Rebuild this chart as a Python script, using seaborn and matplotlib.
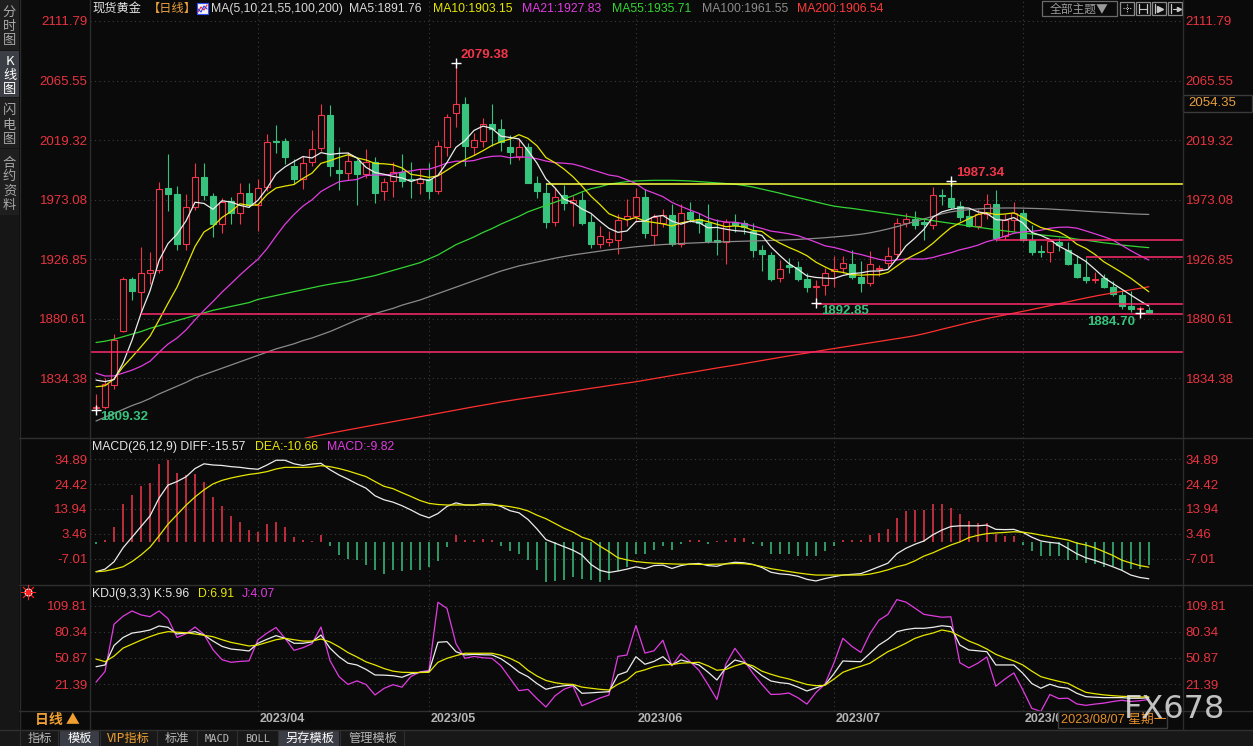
"""Spot gold daily K-line with MA, MACD and KDJ panels (dark trading-terminal look)."""

import matplotlib
matplotlib.use("Agg")
import matplotlib.pyplot as plt
import matplotlib.transforms as mtransforms
from matplotlib.patches import Rectangle
import numpy as np
import pandas as pd
import seaborn as sns

# ---------------------------------------------------------------- data
opens = [
    1810.8, 1812.0, 1829.0, 1871.0, 1911.0, 1901.6, 1916.0, 1918.0, 1982.0, 1977.0,
    1938.5, 1967.0, 1990.7, 1976.0, 1954.3, 1972.0, 1962.4, 1978.0, 1968.6, 1982.8,
    2018.8, 2018.8, 1999.3, 1989.4, 2001.9, 2013.2, 2038.4, 1996.0, 1993.6, 2003.4,
    1993.0, 2002.3, 1979.6, 1987.3, 1994.6, 1989.0, 1986.3, 1988.9, 1979.8, 2013.7,
    2040.2, 2047.5, 2013.7, 2018.3, 2031.9, 2028.0, 2013.7, 2005.9, 2013.7, 1986.3,
    1978.5, 1956.0, 1976.7, 1970.0, 1972.8, 1955.7, 1938.9, 1939.7, 1941.5, 1957.8,
    1960.4, 1975.2, 1945.3, 1954.5, 1961.3, 1938.4, 1963.5, 1957.9, 1955.2, 1941.5,
    1940.2, 1956.0, 1955.2, 1948.8, 1934.0, 1930.1, 1912.0, 1922.3, 1920.8, 1911.7,
    1905.3, 1906.6, 1917.7, 1919.5, 1922.9, 1913.0, 1908.6, 1918.8, 1923.4, 1930.6,
    1955.2, 1958.3, 1955.5, 1953.2, 1976.2, 1974.2, 1968.2, 1960.4, 1952.6, 1961.7,
    1969.5, 1944.9, 1957.0, 1963.0, 1941.5, 1932.6, 1932.4, 1940.2, 1934.0, 1923.3,
    1912.5, 1910.5, 1912.0, 1905.5, 1899.0, 1890.0, 1888.0, 1887.1,
]
highs = [
    1822.0, 1834.3, 1868.5, 1913.0, 1913.0, 1936.3, 1932.4, 1986.8, 2008.5, 1983.7,
    1977.5, 2001.7, 2001.7, 1978.0, 1974.6, 1975.0, 1985.7, 1986.0, 1988.9, 2024.0,
    2031.3, 2020.5, 2004.5, 2007.1, 2027.2, 2047.5, 2046.2, 2014.2, 2010.0, 2004.5,
    2012.0, 2006.0, 1990.0, 2002.0, 2008.5, 2002.0, 1996.7, 2001.4, 2018.8, 2039.8,
    2079.38, 2052.7, 2025.0, 2036.6, 2047.0, 2036.0, 2023.0, 2020.2, 2017.0, 1991.0,
    1986.0, 1982.4, 1984.0, 1975.9, 1979.0, 1961.7, 1952.6, 1948.8, 1961.7, 1973.4,
    1982.4, 1981.0, 1962.0, 1966.0, 1969.5, 1969.5, 1971.5, 1963.0, 1969.5, 1957.9,
    1958.0, 1962.0, 1957.0, 1955.2, 1937.6, 1932.0, 1926.0, 1928.0, 1925.5, 1915.9,
    1910.8, 1920.0, 1929.0, 1929.0, 1933.7, 1925.7, 1933.2, 1922.0, 1936.0, 1959.0,
    1963.0, 1964.0, 1958.5, 1982.9, 1981.2, 1987.34, 1972.0, 1966.0, 1966.0, 1977.2,
    1980.6, 1962.0, 1971.2, 1966.0, 1953.4, 1937.9, 1942.3, 1943.5, 1940.0, 1930.0,
    1928.0, 1917.0, 1915.0, 1910.0, 1903.0, 1902.1, 1890.5, 1889.7,
]
lows = [
    1809.32, 1810.0, 1826.0, 1870.0, 1894.9, 1884.0, 1907.3, 1916.0, 1964.2, 1934.0,
    1933.8, 1965.0, 1972.8, 1944.0, 1947.4, 1954.0, 1954.3, 1966.9, 1948.7, 1980.0,
    2008.9, 2000.6, 1985.0, 1981.1, 1999.3, 2011.0, 1991.5, 1980.3, 1988.0, 1968.6,
    1990.0, 1970.7, 1973.0, 1975.0, 1983.0, 1974.6, 1977.2, 1973.3, 1977.0, 2007.1,
    2029.2, 1999.3, 2008.0, 2014.0, 2015.0, 2010.5, 2000.6, 2004.0, 1986.0, 1974.0,
    1950.8, 1952.6, 1965.0, 1952.6, 1953.0, 1935.5, 1935.8, 1937.0, 1931.1, 1952.6,
    1956.0, 1943.0, 1937.8, 1952.0, 1937.0, 1936.0, 1956.0, 1947.0, 1939.0, 1930.0,
    1923.3, 1948.0, 1946.0, 1928.6, 1917.7, 1910.0, 1909.0, 1916.0, 1909.5, 1901.6,
    1892.85, 1899.0, 1905.0, 1916.0, 1911.0, 1901.2, 1906.0, 1914.0, 1920.0, 1927.0,
    1952.0, 1950.0, 1942.0, 1950.0, 1969.0, 1966.0, 1956.5, 1952.0, 1950.5, 1958.0,
    1941.0, 1942.0, 1949.0, 1940.5, 1930.0, 1928.6, 1924.9, 1933.0, 1922.0, 1912.0,
    1908.0, 1908.0, 1904.0, 1898.0, 1888.0, 1885.5, 1884.7, 1884.85,
]
closes = [
    1812.0, 1830.0, 1864.0, 1911.0, 1902.0, 1916.0, 1918.0, 1981.4, 1977.0, 1938.5,
    1967.3, 1990.7, 1976.7, 1954.3, 1971.5, 1962.4, 1978.0, 1968.6, 1982.2, 2017.8,
    2017.8, 2005.8, 1989.4, 2001.6, 2012.3, 2038.4, 1998.8, 1993.6, 2003.0, 1993.3,
    2002.0, 1978.5, 1986.8, 1994.6, 1987.3, 1988.5, 1988.9, 1979.8, 2014.9, 2037.1,
    2047.5, 2014.9, 2019.3, 2031.9, 2028.0, 2017.5, 2009.7, 2013.7, 1986.3, 1979.8,
    1955.8, 1975.2, 1970.0, 1972.5, 1955.2, 1938.9, 1944.6, 1942.3, 1957.0, 1960.4,
    1975.2, 1946.7, 1959.6, 1961.3, 1938.9, 1963.0, 1958.3, 1954.5, 1941.0, 1940.2,
    1956.0, 1953.0, 1951.9, 1934.0, 1931.1, 1911.7, 1919.0, 1920.8, 1911.7, 1905.5,
    1905.8, 1916.3, 1919.0, 1923.6, 1913.0, 1908.6, 1922.9, 1919.8, 1929.3, 1955.2,
    1957.8, 1953.2, 1953.8, 1976.7, 1975.8, 1967.4, 1959.6, 1952.6, 1962.2, 1969.5,
    1943.5, 1957.0, 1963.0, 1941.5, 1932.4, 1932.2, 1941.0, 1937.6, 1923.3, 1912.5,
    1910.5, 1910.9, 1905.5, 1900.0, 1890.0, 1888.0, 1888.7, 1885.0,
]
# closes of the 20 sessions before the window (feed the short moving averages)
prior_closes = [
    1876, 1862, 1865, 1854, 1853, 1836, 1836, 1842, 1841, 1835,
    1825, 1822, 1811, 1817, 1826, 1836, 1836, 1856, 1847, 1813,
]
ma55 = [
    1862.0, 1863.0, 1864.5, 1866.5, 1868.5, 1870.5, 1873.0, 1875.0, 1877.0, 1879.0,
    1881.0, 1883.0, 1885.0, 1887.0, 1888.5, 1890.0, 1891.5, 1893.0, 1895.5, 1897.0,
    1898.5, 1900.0, 1901.5, 1903.0, 1904.5, 1906.0, 1907.3, 1908.5, 1909.5, 1911.0,
    1912.5, 1914.0, 1916.0, 1918.0, 1920.0, 1922.0, 1924.0, 1927.0, 1930.0, 1934.0,
    1938.0, 1941.0, 1944.0, 1947.5, 1950.5, 1954.0, 1957.0, 1960.0, 1963.5, 1966.0,
    1968.5, 1971.0, 1973.5, 1976.0, 1979.0, 1981.5, 1983.0, 1985.0, 1986.0, 1987.0,
    1987.5, 1987.8, 1988.0, 1988.0, 1988.0, 1987.8, 1987.5, 1987.0, 1986.5, 1986.0,
    1985.5, 1985.0, 1984.0, 1982.8, 1981.2, 1979.6, 1978.0, 1976.2, 1974.6, 1973.0,
    1971.2, 1969.5, 1968.0, 1967.0, 1966.2, 1965.2, 1964.2, 1963.2, 1962.2, 1961.2,
    1960.2, 1959.0, 1957.8, 1956.7, 1955.6, 1954.6, 1953.6, 1952.6, 1951.6, 1950.6,
    1949.6, 1948.7, 1947.9, 1947.1, 1946.3, 1945.6, 1944.9, 1944.2, 1943.5, 1942.3,
    1941.5, 1940.5, 1939.5, 1938.7, 1937.7, 1937.0, 1936.3, 1935.7,
]
ma100 = [
    1801.0, 1804.0, 1807.0, 1810.0, 1813.0, 1815.5, 1818.5, 1822.0, 1825.0, 1828.0,
    1831.0, 1834.5, 1837.0, 1839.5, 1842.0, 1844.5, 1847.0, 1849.5, 1852.0, 1854.5,
    1857.0, 1859.0, 1861.0, 1863.5, 1865.5, 1868.0, 1870.5, 1873.5, 1876.5, 1879.5,
    1882.0, 1884.5, 1886.5, 1888.5, 1891.0, 1893.0, 1895.0, 1897.5, 1900.0, 1902.5,
    1905.0, 1907.5, 1910.0, 1912.5, 1915.0, 1917.5, 1919.5, 1921.5, 1923.0, 1924.5,
    1926.0, 1927.5, 1928.8, 1930.0, 1931.0, 1932.0, 1933.0, 1934.0, 1934.8, 1935.6,
    1936.4, 1937.0, 1937.6, 1938.1, 1938.5, 1938.9, 1939.2, 1939.5, 1939.8, 1940.1,
    1940.3, 1940.5, 1940.7, 1940.9, 1941.1, 1941.3, 1941.5, 1941.8, 1942.1, 1942.5,
    1942.9, 1943.4, 1944.0, 1944.6, 1945.3, 1946.1, 1947.2, 1948.6, 1950.2, 1952.0,
    1954.0, 1956.0, 1958.0, 1960.0, 1962.0, 1963.5, 1964.5, 1965.2, 1965.8, 1966.2,
    1966.4, 1966.5, 1966.5, 1966.4, 1966.2, 1966.0, 1965.7, 1965.3, 1964.9, 1964.5,
    1964.0, 1963.6, 1963.2, 1962.8, 1962.4, 1962.0, 1961.7, 1961.5,
]
ma200 = [
    1757.4, 1758.7, 1760.0, 1761.3, 1762.6, 1763.9, 1765.2, 1766.5, 1767.8, 1769.1,
    1770.4, 1771.7, 1773.0, 1774.3, 1775.6, 1776.9, 1778.2, 1779.5, 1780.8, 1782.1,
    1783.4, 1784.7, 1786.0, 1787.3, 1788.7, 1790.1, 1791.5, 1792.8, 1794.1, 1795.4,
    1796.7, 1798.0, 1799.2, 1800.5, 1801.8, 1803.0, 1804.3, 1805.6, 1806.9, 1808.2,
    1809.5, 1810.8, 1812.1, 1813.3, 1814.5, 1815.8, 1816.9, 1818.0, 1819.0, 1820.1,
    1821.1, 1822.2, 1823.2, 1824.3, 1825.3, 1826.4, 1827.4, 1828.5, 1829.5, 1830.5,
    1831.5, 1832.7, 1833.9, 1835.1, 1836.3, 1837.5, 1838.6, 1839.8, 1841.0, 1842.2,
    1843.3, 1844.4, 1845.6, 1846.8, 1848.0, 1849.2, 1850.4, 1851.6, 1852.7, 1853.8,
    1855.0, 1856.2, 1857.3, 1858.4, 1859.5, 1860.6, 1861.7, 1862.8, 1863.9, 1865.0,
    1866.1, 1867.3, 1868.8, 1870.5, 1872.3, 1874.0, 1875.7, 1877.4, 1879.0, 1880.6,
    1882.0, 1883.4, 1884.8, 1886.2, 1887.6, 1889.1, 1890.6, 1892.1, 1893.6, 1895.1,
    1896.6, 1898.0, 1899.3, 1900.5, 1901.7, 1902.9, 1904.1, 1905.3,
]
diff = [
    -12.6, -11.5, -8.4, -2.5, 2.0, 6.5, 11.0, 18.5, 24.0, 25.5,
    27.5, 31.0, 33.0, 32.5, 32.3, 31.8, 31.5, 31.0, 30.7, 32.5,
    34.5, 34.5, 33.0, 32.3, 32.9, 33.2, 30.5, 28.3, 26.5, 24.5,
    22.7, 19.5, 17.8, 16.8, 15.3, 13.5, 11.5, 10.2, 12.0, 15.0,
    16.5, 15.6, 15.5, 16.2, 16.0, 15.0, 13.2, 12.3, 9.5, 5.5,
    1.0, -0.5, -2.0, -3.5, -5.5, -9.5, -12.0, -12.9, -12.3, -11.5,
    -10.5, -11.3, -10.0, -9.8, -11.2, -10.0, -9.3, -9.1, -10.0, -10.3,
    -9.2, -8.6, -8.8, -9.5, -10.8, -12.8, -13.5, -13.8, -14.5, -15.8,
    -16.5, -15.5, -14.7, -14.0, -13.7, -13.4, -12.0, -10.5, -9.0, -5.0,
    -2.7, -1.0, 0.4, 3.0, 5.0, 6.5, 6.8, 6.8, 6.8, 7.1,
    5.3, 5.2, 5.3, 4.0, 2.0, 0.4, -0.2, -0.6, -2.7, -5.0,
    -6.7, -7.8, -9.1, -10.5, -12.0, -14.0, -15.0, -15.57,
]
dea = [
    -12.6, -12.3, -11.5, -10.5, -8.3, -5.5, -2.2, 2.5, 7.5, 11.5,
    15.5, 19.0, 22.0, 24.5, 26.0, 27.0, 27.8, 28.5, 29.0, 29.7,
    30.8, 31.5, 31.5, 31.5, 31.6, 32.2, 31.8, 31.0, 30.0, 28.8,
    27.6, 25.5, 23.5, 22.5, 20.8, 19.2, 17.5, 16.3, 15.8, 15.6,
    15.6, 15.6, 15.6, 15.6, 15.6, 15.4, 14.9, 14.2, 13.1, 11.3,
    9.8, 7.8, 5.8, 4.2, 2.0, 0.8, -1.8, -4.1, -6.7, -7.6,
    -8.3, -8.7, -9.0, -9.1, -9.3, -9.4, -9.4, -9.5, -9.5, -9.4,
    -9.3, -9.1, -9.2, -9.6, -10.4, -11.3, -11.9, -12.5, -13.1, -13.6,
    -14.0, -14.0, -14.0, -14.0, -14.0, -14.0, -13.6, -12.8, -11.8, -10.5,
    -9.6, -8.0, -6.0, -4.6, -2.9, -1.3, 0.0, 1.8, 2.8, 3.5,
    3.8, 4.0, 4.3, 4.1, 3.6, 2.9, 2.2, 1.5, 0.8, -0.5,
    -1.3, -2.5, -4.1, -5.7, -7.7, -8.9, -10.0, -10.66,
]
macd_bar = [
    -0.7, 1.0, 6.3, 16.2, 20.0, 23.7, 24.7, 32.9, 34.8, 29.3,
    28.2, 28.6, 25.4, 18.8, 15.2, 10.9, 8.5, 5.2, 4.2, 7.5,
    8.5, 6.3, 2.1, 0.7, 0.3, 2.8, -1.8, -5.6, -7.1, -7.8,
    -9.9, -12.0, -13.7, -12.0, -12.3, -11.7, -12.0, -10.6, -8.0, -2.1,
    2.8, 1.0, 0.7, 1.4, 1.0, -1.7, -3.8, -4.9, -7.5, -12.0,
    -16.9, -16.5, -16.2, -14.8, -15.5, -16.2, -16.9, -16.2, -12.3, -10.5,
    -4.9, -4.9, -3.5, -1.8, -3.5, -1.0, 0.7, 1.0, -0.7, 0.4,
    0.7, 1.8, 1.8, -0.7, -1.8, -4.9, -5.2, -4.9, -6.1, -6.1,
    -6.1, -3.8, -1.8, 1.0, 1.0, 1.0, 2.8, 3.8, 5.6, 10.3,
    13.0, 13.4, 13.4, 15.9, 16.2, 14.5, 12.0, 8.9, 8.0, 7.8,
    3.5, 2.4, 2.4, -1.1, -3.8, -6.1, -6.1, -6.1, -7.8, -7.8,
    -8.9, -9.2, -10.6, -10.3, -12.0, -11.3, -11.3, -9.82,
]
k_line = [
    41.0, 43.0, 65.0, 74.0, 79.0, 80.5, 82.5, 87.0, 85.5, 78.0,
    79.0, 80.6, 76.8, 70.0, 64.0, 61.0, 60.0, 58.8, 67.5, 72.0,
    76.1, 73.1, 67.5, 67.5, 69.0, 76.8, 62.0, 52.3, 45.0, 43.0,
    38.0, 31.7, 31.5, 30.9, 29.1, 33.0, 34.7, 35.4, 68.6, 69.3,
    58.0, 54.3, 55.0, 54.5, 54.3, 50.0, 43.0, 35.0, 29.8, 22.0,
    15.5, 18.0, 19.5, 20.4, 11.0, 11.5, 12.2, 12.8, 31.7, 35.4,
    52.3, 43.8, 47.0, 52.3, 43.0, 48.6, 46.0, 43.0, 35.0, 26.0,
    40.0, 48.6, 46.0, 39.2, 31.0, 24.9, 23.0, 21.9, 18.0, 13.6,
    17.0, 20.4, 33.0, 47.5, 47.0, 46.7, 56.0, 65.5, 72.0, 80.6,
    83.0, 84.4, 84.4, 85.5, 87.3, 86.2, 65.5, 59.9, 59.0, 58.0,
    43.0, 43.0, 43.0, 33.6, 22.0, 16.7, 21.2, 18.0, 16.7, 11.0,
    7.2, 6.6, 6.1, 6.1, 6.1, 5.4, 5.4, 5.96,
]
d_line = [
    49.7, 46.7, 53.0, 62.0, 66.5, 71.0, 75.0, 78.5, 80.6, 80.0,
    79.4, 78.0, 76.5, 74.9, 71.5, 68.5, 66.5, 64.4, 65.5, 68.5,
    71.5, 73.1, 71.5, 70.0, 70.0, 72.3, 69.0, 63.5, 57.0, 52.0,
    46.5, 43.0, 39.0, 36.0, 34.7, 34.5, 34.5, 34.7, 46.0, 50.5,
    53.5, 56.2, 56.2, 56.2, 56.2, 54.0, 50.5, 45.5, 37.0, 30.5,
    25.5, 23.0, 21.5, 21.0, 18.0, 16.7, 15.5, 14.7, 21.2, 26.0,
    34.7, 37.5, 41.0, 43.0, 43.5, 45.0, 45.5, 46.0, 42.0, 37.0,
    38.0, 42.0, 44.9, 42.0, 36.0, 32.5, 29.5, 27.2, 24.0, 21.0,
    19.6, 20.0, 27.0, 34.7, 38.5, 41.5, 44.9, 51.5, 58.0, 62.5,
    67.5, 73.0, 76.5, 79.0, 82.5, 80.6, 75.5, 70.0, 66.0, 61.0,
    55.0, 51.0, 47.5, 43.0, 36.0, 29.8, 27.0, 24.5, 22.3, 17.0,
    12.1, 10.5, 9.2, 8.3, 7.6, 7.2, 6.8, 6.91,
]
# user-drawn horizontal guide lines: price level and the session they start from
guide_levels = [1985.5, 1941.3, 1928.3, 1892.0, 1884.0, 1854.8]
guide_from = [50, 100, 110, 80, 5, 0]

price_ticks = [2111.79, 2065.55, 2019.32, 1973.08, 1926.85, 1880.61, 1834.38]
macd_ticks = [34.89, 24.42, 13.94, 3.46, -7.01]
kdj_ticks = [109.81, 80.34, 50.87, 21.39]

dates = pd.bdate_range("2023-03-08", "2023-08-21")
dates = dates[dates != pd.Timestamp("2023-04-07")]
n = len(closes)
assert len(dates) == n == len(opens) == len(highs) == len(lows)
idx = np.arange(n)
month_pos = [i for i in range(1, n) if dates[i].month != dates[i - 1].month]
month_labels = [dates[i].strftime("%Y/%m") for i in month_pos]

full_close = pd.Series(prior_closes + closes, dtype=float)
ma5 = full_close.rolling(5).mean().iloc[len(prior_closes):].to_numpy()
ma10 = full_close.rolling(10).mean().iloc[len(prior_closes):].to_numpy()
ma21 = full_close.rolling(21).mean().iloc[len(prior_closes):].to_numpy()
j_line = 3 * np.array(k_line) - 2 * np.array(d_line)

# ---------------------------------------------------------------- style
W, H = 1253, 746
BG = "#0a0a0a"
RED = "#f2364a"
GREEN = "#37c37d"
AXIS_RED = "#e8343f"
GRID = "#3c3c3c"
WHITE = "#ececec"
YELLOW = "#e6e600"
MAGENTA = "#e03ce0"
PINK = "#ff2a6d"

sns.set_theme(style="dark", rc={"axes.facecolor": BG, "figure.facecolor": BG})
plt.rcParams["font.family"] = ["Liberation Sans", "Noto Sans CJK SC", "DejaVu Sans"]
plt.rcParams["axes.unicode_minus"] = False
CJK = ["Noto Sans CJK SC", "DejaVu Sans"]

fig = plt.figure(figsize=(W / 100, H / 100), dpi=100)
fig.patch.set_facecolor(BG)

X0, X1 = 90, 1183


def panel(top, bottom):
    return fig.add_axes([X0 / W, 1 - bottom / H, (X1 - X0) / W, (bottom - top) / H])


def style(ax, ylim, ticks):
    ax.set_facecolor(BG)
    ax.set_xlim(-0.67, 120.8)
    ax.set_ylim(*ylim)
    ax.set_yticks(ticks)
    ax.set_yticklabels([f"{t:.2f}" for t in ticks])
    ax.tick_params(axis="y", length=0, labelleft=True, labelright=True,
                   labelcolor=AXIS_RED, labelsize=9.5, pad=1.8)
    ax.set_xticks(month_pos)
    ax.tick_params(axis="x", length=0, labelbottom=False)
    ax.grid(True, color=GRID, linestyle=(0, (1, 3)), linewidth=0.8)
    for s in ax.spines.values():
        s.set_visible(False)


ax_p = panel(0, 438)
ax_m = panel(438, 585)
ax_k = panel(585, 711)
style(ax_p, (1787.8, 2128.1), price_ticks)
style(ax_m, (-18.2, 43.9), macd_ticks)
style(ax_k, (-9.0, 133.3), kdj_ticks)

# ---------------------------------------------------------------- price panel
o, h, l, c = map(np.asarray, (opens, highs, lows, closes))
up = c >= o
cols = np.where(up, RED, GREEN)
ax_p.vlines(idx, l, h, colors=cols, lw=0.8, zorder=3)
body_bot = np.minimum(o, c)
body_h = np.maximum(np.abs(c - o), 0.6)
ax_p.bar(idx, body_h, bottom=body_bot, width=0.66,
         color=np.where(up, BG, GREEN), edgecolor=cols, linewidth=0.8, zorder=4)

for series, col in [(ma200, "#ff3030"), (ma100, "#8a8a8a"), (ma55, "#33d433"),
                    (ma21, MAGENTA), (ma10, YELLOW), (ma5, WHITE)]:
    sns.lineplot(x=idx, y=series, ax=ax_p, color=col, linewidth=0.9, zorder=5)

for lvl, start, col in zip(guide_levels, guide_from, ["#ffff40"] + [PINK] * 5):
    ax_p.hlines(lvl, start if start > 0 else -0.67, 120.8, color=col, lw=1.1, zorder=6)

hi1 = int(np.argmax(h))
hi2 = 60 + int(np.argmax(h[60:]))
lo1 = int(np.argmin(l))
lo2 = 60 + int(np.argmin(l[60:100]))
lo3 = 100 + int(np.argmin(l[100:]))
marks = [(hi1, h[hi1], RED, (5, 8), "left"),
         (hi2, h[hi2], RED, (5, 8), "left"),
         (lo1, l[lo1], GREEN, (4, -7), "left"),
         (lo2, l[lo2], GREEN, (5, -8), "left"),
         (lo3, l[lo3], GREEN, (-5, -9), "right")]
for i, v, col, off, ha in marks:
    ax_p.plot(i, v, marker="+", color="white", ms=7, mew=1.0, zorder=7)
    ax_p.annotate(f"{v:.2f}", xy=(i, v), xytext=off, textcoords="offset pixels",
                  color=col, fontsize=9.5, fontweight="bold", ha=ha, va="center", zorder=8)

# ---------------------------------------------------------------- MACD panel
bar = np.asarray(macd_bar)
ax_m.vlines(idx, 0, bar, colors=np.where(bar >= 0, RED, GREEN), lw=1.1, zorder=3)
sns.lineplot(x=idx, y=diff, ax=ax_m, color=WHITE, linewidth=0.9, zorder=4)
sns.lineplot(x=idx, y=dea, ax=ax_m, color=YELLOW, linewidth=0.9, zorder=4)

# ---------------------------------------------------------------- KDJ panel
sns.lineplot(x=idx, y=j_line, ax=ax_k, color=MAGENTA, linewidth=0.9, zorder=3)
sns.lineplot(x=idx, y=k_line, ax=ax_k, color=WHITE, linewidth=0.9, zorder=4)
sns.lineplot(x=idx, y=d_line, ax=ax_k, color=YELLOW, linewidth=0.9, zorder=4)

ax_k.set_xticks(month_pos)
ax_k.set_xticklabels(month_labels)
ax_k.tick_params(axis="x", labelbottom=True, labelcolor="#b4b4b4", labelsize=9, pad=1.5)
shift = mtransforms.ScaledTranslation(2 / 100, 0, fig.dpi_scale_trans)
for lab in ax_k.get_xticklabels():
    lab.set_ha("left")
    lab.set_fontweight("bold")
    lab.set_transform(lab.get_transform() + shift)
for ax in (ax_p, ax_m, ax_k):
    ax.set_xlabel("")
    ax.set_ylabel("")

# ---------------------------------------------------------------- terminal chrome (pixel overlay)
ov = fig.add_axes([0, 0, 1, 1], zorder=10)
ov.set_xlim(0, W)
ov.set_ylim(H, 0)
ov.axis("off")
ov.patch.set_alpha(0)


def txt(x, y, s, color, size=9, **kw):
    kw.setdefault("va", "center")
    ov.text(x, y, s, color=color, fontsize=size, **kw)


# frame lines
for y in (438, 585, 711):
    ov.plot([19, W], [y, y], color="#303030", lw=1)
ov.plot([0, W], [730, 730], color="#303030", lw=1)
for x in (X0, X1):
    ov.plot([x, x], [0, 730], color="#2c2c2c", lw=1)

# left sidebar tabs
ov.add_patch(Rectangle((0, 0), 19, 730, facecolor="#161616", edgecolor="none"))
ov.plot([19.5, 19.5], [0, 730], color="#2c2c2c", lw=1)
tabs = [(0, 50, "#1f1f1f"), (51, 97, "#3b3e45"), (98, 148, "#1f1f1f"), (149, 215, "#1f1f1f")]
for y0, y1, fc in tabs:
    ov.add_patch(Rectangle((0, y0), 19, y1 - y0, facecolor=fc, edgecolor="none"))
side_chars = [(12.7, "分"), (26.7, "时"), (40.7, "图"), (61.7, "K"), (75, "线"), (89.3, "图"),
              (110.7, "闪"), (125, "电"), (139, "图"), (163, "合"), (176.7, "约"),
              (191, "资"), (205, "料")]
for y, ch in side_chars:
    col = "#ffffff" if 55 < y < 95 else "#a8a8a8"
    txt(9.5, y, ch, col, 9.5, ha="center", family=CJK)

# panel headers
header = [(92, "现货黄金", "#e6e6e6"), (148, "【日线】", "#e8a040"),
          (211, "MA(5,10,21,55,100,200)", "#d8d8d8"), (349, "MA5:1891.76", "#d8d8d8"),
          (433, "MA10:1903.15", YELLOW), (522, "MA21:1927.83", MAGENTA),
          (612, "MA55:1935.71", "#33d433"), (702, "MA100:1961.55", "#8c8c8c"),
          (797, "MA200:1906.54", "#ff3a3a")]
for x, s, col in header:
    txt(x, 9, s, col, 8.8)
ov.add_patch(Rectangle((197, 3), 11, 11, facecolor="#f4f4f4", edgecolor="#3050ff", lw=0.8))
ov.plot([198, 201, 204, 207], [12, 7, 10, 5], color="#ff2020", lw=0.8)
ov.plot([198, 201, 204, 207], [9, 12, 6, 9], color="#2040ff", lw=0.8)

for x, s, col in [(92, "MACD(26,12,9) DIFF:-15.57", "#e6e6e6"),
                  (255, "DEA:-10.66", YELLOW), (327, "MACD:-9.82", MAGENTA)]:
    txt(x, 447, s, col, 8.8)
for x, s, col in [(92, "KDJ(9,3,3) K:5.96", "#e6e6e6"),
                  (198, "D:6.91", YELLOW), (242, "J:4.07", MAGENTA)]:
    txt(x, 594, s, col, 8.8)
ov.plot(28, 592, marker="o", ms=5, color="#ff2020", mec="#ffffff", mew=0.8)
ov.plot(28, 592, marker=(8, 2, 0), ms=11, color="#ff2020", mew=0.6)

# top-right toolbar
ov.add_patch(Rectangle((1042, 1), 75, 15, facecolor="none", edgecolor="#6a6a6a", lw=0.9))
txt(1079.5, 9, "全部主题▼", "#9a9a9a", 8.5, ha="center", family=CJK)
for bx in (1120, 1136, 1152, 1168):
    ov.add_patch(Rectangle((bx, 1.5), 14, 13.5, facecolor="none", edgecolor="#8a8a8a", lw=0.9))
ov.plot([1123, 1131], [8.2, 8.2], color="#c8c8c8", lw=0.8, ls=(0, (1, 1)))
ov.plot([1127, 1127], [4, 12.5], color="#c8c8c8", lw=0.8, ls=(0, (1, 1)))
ov.plot([1139, 1139], [4, 13], color="#c8c8c8", lw=0.9)
ov.plot([1147, 1147], [4, 13], color="#c8c8c8", lw=0.9)
ov.plot([1139, 1147], [8.5, 8.5], color="#c8c8c8", lw=0.8)
ov.plot([1155, 1155], [4, 13], color="#c8c8c8", lw=0.9)
ov.plot(1160, 8.5, marker=">", ms=4, color="#c8c8c8")
ov.plot([1171, 1171], [4, 13], color="#c8c8c8", lw=0.9)
ov.plot([1173, 1179], [8.5, 8.5], color="#c8c8c8", lw=0.8)
ov.plot(1179, 8.5, marker=">", ms=3, color="#c8c8c8")

# current cursor price box on the right axis
ov.add_patch(Rectangle((1183, 95), 69, 17, facecolor=BG, edgecolor="#3a3a3a", lw=1))
txt(1188, 103.5, "2054.35", "#e8a040", 9.5)

# time axis row (the watermark sits over the cursor-date box, as in the terminal)
txt(35, 720, "日线 ▲", "#f0a030", 10, fontweight="bold", family=CJK)
ov.add_patch(Rectangle((1058, 711), 109, 17, facecolor=BG, edgecolor="#3c3c3c", lw=1))
txt(1061, 719.5, "2023/08/07 星期一", "#e8902a", 9.2)
txt(1124, 709, "FX678", "#e2e2e2", 23, family=["DejaVu Sans"], alpha=0.85)

# bottom tab bar
ov.add_patch(Rectangle((0, 730.5), W, 16, facecolor="#181818", edgecolor="none"))
for x0, x1 in [(60, 99), (278, 339)]:
    ov.add_patch(Rectangle((x0, 731), x1 - x0, 15, facecolor="#3a3d45", edgecolor="none"))
for sx in (20, 58, 100, 157, 197, 237, 278, 340, 404):
    ov.plot([sx, sx], [731, 746], color="#303030", lw=0.8)
bottom_tabs = [(39.5, "指标", "#b8b8b8", CJK), (79.5, "模板", "#ffffff", CJK),
               (128.5, "VIP指标", "#f0a030", CJK), (177, "标准", "#b8b8b8", CJK),
               (217.5, "MACD", "#b8b8b8", ["DejaVu Sans Mono"]),
               (257.5, "BOLL", "#b8b8b8", ["DejaVu Sans Mono"]),
               (310, "另存模板", "#ffffff", CJK), (373, "管理模板", "#b8b8b8", CJK)]
for x, s, col, fam in bottom_tabs:
    txt(x, 738.5, s, col, 8.8 if fam is CJK else 7.5, ha="center", family=fam)

fig.savefig("out.png", dpi=100, facecolor=BG)
